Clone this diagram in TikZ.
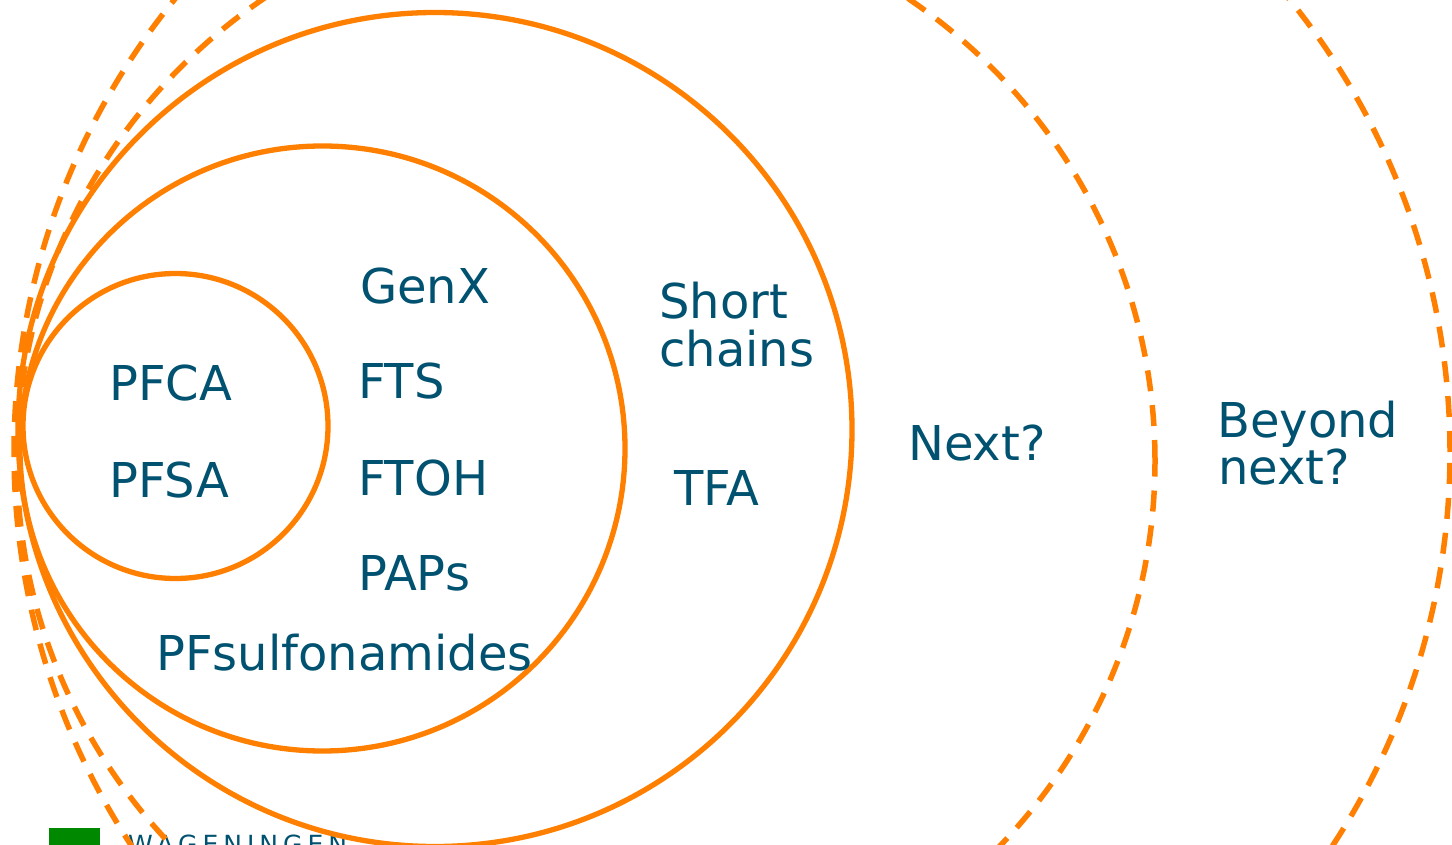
\documentclass[tikz,border=0pt]{standalone}
\usepackage{fontspec}
\setmainfont{DejaVu Sans}
\newfontfamily\logofont[LetterSpace=20]{DejaVu Sans}
\definecolor{wurorange}{RGB}{255,128,0}
\definecolor{wurblue}{RGB}{0,82,112}
\definecolor{wurgreen}{RGB}{0,136,0}
\tikzset{
  ring/.style={draw=wurorange, line width=5.3pt},
  dashring/.style={draw=wurorange, line width=5.5pt, dash pattern=on 21pt off 14pt},
  lbl/.style={text=wurblue, inner sep=0pt, anchor=base west, font=\fontsize{48}{58}\selectfont},
  logotext/.style={text=wurblue, inner sep=0pt, anchor=north west, font=\logofont\fontsize{25}{30}\selectfont}
}
\begin{document}
\begin{tikzpicture}[x=1pt,y=-1pt]
\useasboundingbox (0,0) rectangle (1452,845);
\clip (0,0) rectangle (1452,845);
\fill[white] (0,0) rectangle (1452,845);
% logo
\fill[wurgreen] (49,828) rectangle (100,870);
\node[logotext] (logo) at (128,835) {WAGENINGEN};
% rings
\draw[ring] (175.5,426) circle[radius=152.5pt];
\draw[ring] (322.5,448.5) circle[radius=302.5pt];
\draw[ring] (435,429.5) circle[radius=417pt];
\draw[dashring] (586,461) circle[x radius=569pt, y radius=561pt];
\draw[dashring] (732,452) circle[radius=718pt];
% labels
\node[lbl] (pfca) at (109,400) {PFCA};
\node[lbl] (pfsa) at (109,497) {PFSA};
\node[lbl] (genx) at (360,303) {GenX};
\node[lbl] (fts) at (358,398) {FTS};
\node[lbl] (ftoh) at (358,495) {FTOH};
\node[lbl] (paps) at (358,590) {PAPs};
\node[lbl] (pfsulf) at (156,670) {PFsulfonamides};
\node[lbl] (short) at (659,318) {Short};
\node[lbl] (chains) at (659,366) {chains};
\node[lbl] (tfa) at (674,505) {TFA};
\node[lbl] (next) at (908,460) {Next?};
\node[lbl] (beyond) at (1217,437) {Beyond};
\node[lbl] (beyondnext) at (1218,484) {next?};
\end{tikzpicture}
\end{document}
